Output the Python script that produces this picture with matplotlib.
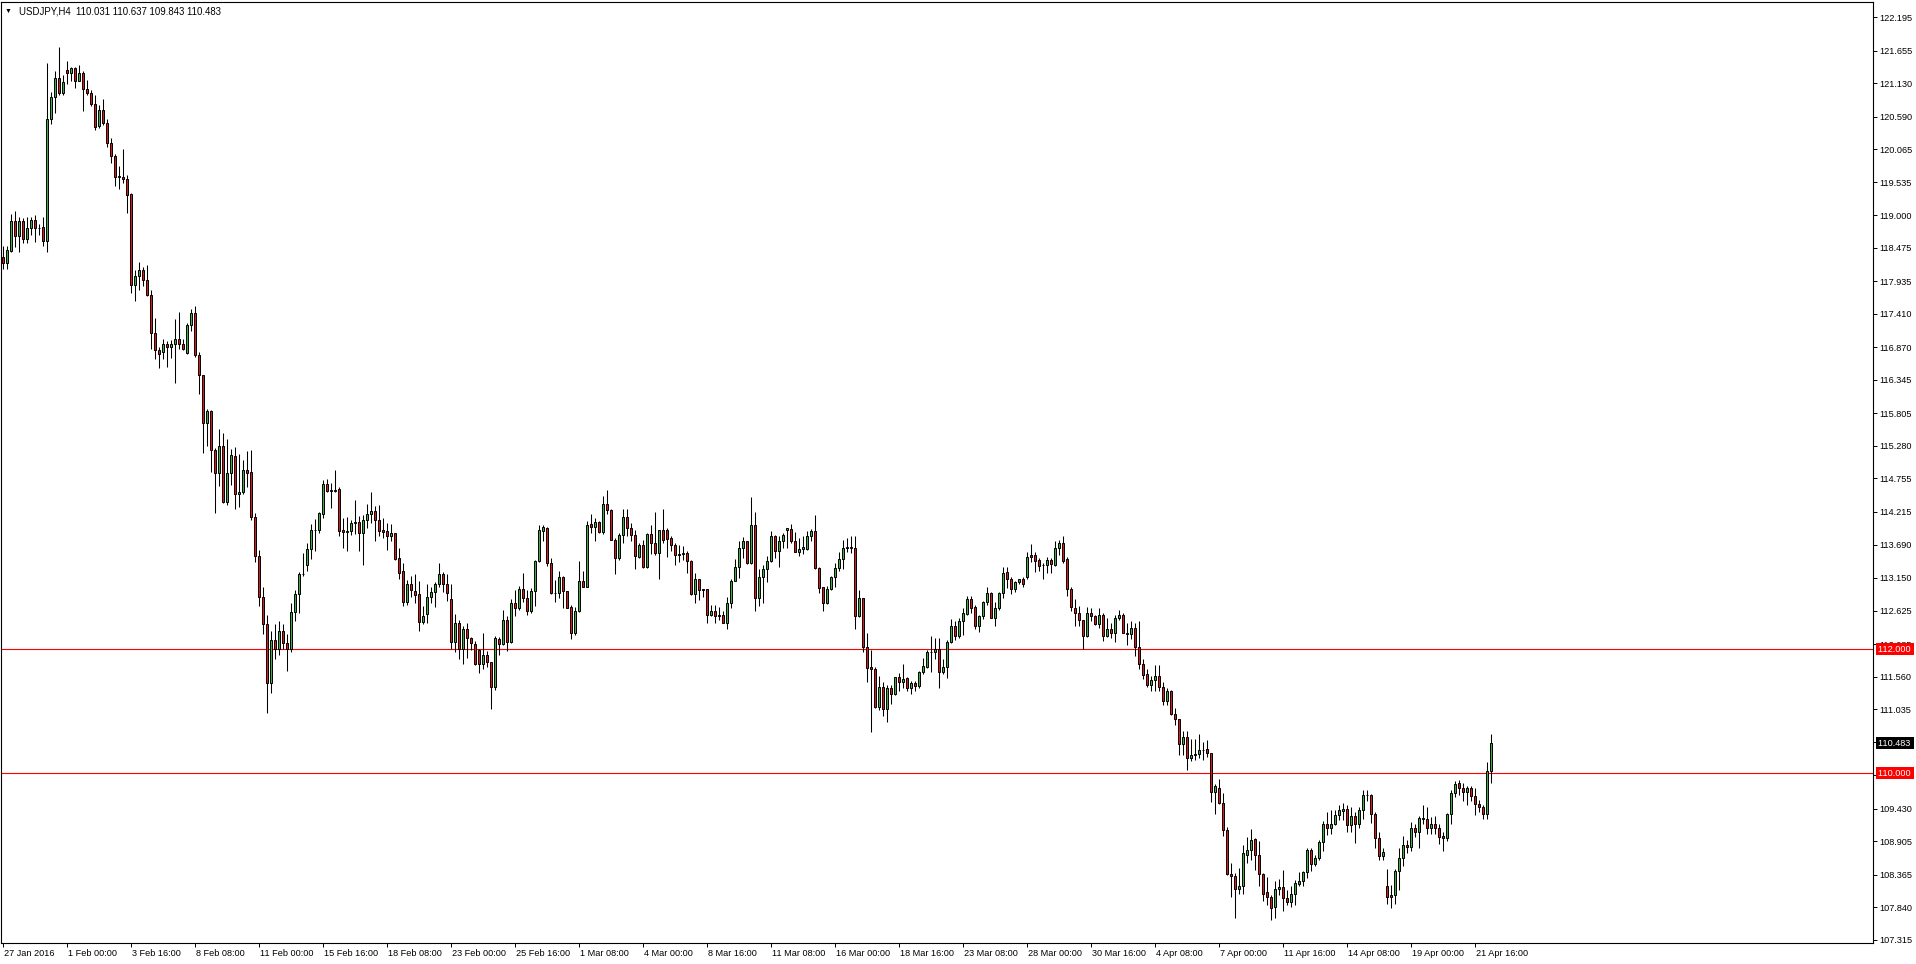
import matplotlib
matplotlib.use('Agg')
import matplotlib.pyplot as plt
import matplotlib.transforms as mtransforms
import numpy as np

# USDJPY H4 bars, 27 Jan 2016 08:00 onwards (one entry per bar)
bar_open = [
    118.32, 118.23, 118.43, 118.90, 118.66, 118.90, 118.62, 118.79, 118.92, 118.79,
    118.81, 118.58, 120.56, 120.90, 121.21, 120.97, 121.34, 121.29, 121.37, 121.17,
    121.29, 121.04, 120.97, 120.80, 120.44, 120.70, 120.49, 120.17, 119.96, 119.63,
    119.62, 119.58, 119.34, 117.88, 118.02, 118.12, 117.95, 117.71, 117.10, 116.83,
    116.79, 116.92, 116.87, 116.92, 117.01, 116.92, 116.78, 117.23, 117.42, 116.74,
    116.43, 115.65, 115.84, 115.22, 114.84, 115.28, 114.38, 114.84, 115.12, 114.50,
    114.53, 114.89, 114.86, 114.14, 113.50, 112.85, 112.40, 111.45, 112.15, 112.00,
    112.30, 112.10, 112.00, 112.60, 112.89, 113.21, 113.36, 113.61, 113.92, 113.93,
    114.19, 114.66, 114.56, 114.57, 114.58, 113.92, 113.89, 113.90, 114.04, 114.05,
    113.87, 114.08, 114.19, 114.23, 114.08, 113.92, 113.91, 113.82, 113.88, 113.47,
    113.26, 112.77, 113.06, 112.94, 112.89, 112.44, 112.57, 112.84, 112.92, 113.06,
    113.21, 113.05, 112.81, 112.11, 112.42, 112.00, 112.33, 112.18, 112.09, 111.99,
    111.77, 111.91, 111.79, 111.39, 112.16, 112.09, 112.47, 112.12, 112.74, 112.67,
    112.97, 112.82, 112.61, 112.94, 113.42, 113.91, 113.95, 113.39, 112.90, 112.90,
    113.16, 112.94, 112.68, 112.27, 112.62, 113.10, 113.00, 114.02, 113.98, 114.05,
    113.89, 114.35, 114.25, 113.77, 113.48, 113.84, 114.13, 113.95, 113.84, 113.49,
    113.68, 113.32, 113.86, 113.71, 113.56, 113.92, 113.93, 113.79, 113.69, 113.53,
    113.53, 113.56, 113.42, 112.89, 113.14, 112.97, 112.97, 112.55, 112.61, 112.55,
    112.55, 112.43, 112.74, 113.10, 113.32, 113.63, 113.75, 113.39, 114.00, 112.83,
    113.17, 113.29, 113.42, 113.83, 113.59, 113.74, 113.93, 113.94, 113.75, 113.57,
    113.61, 113.62, 113.82, 113.91, 113.31, 113.00, 112.74, 112.98, 113.16, 113.31,
    113.45, 113.64, 113.65, 113.64, 112.53, 112.82, 112.04, 111.71, 111.68, 111.07,
    111.39, 111.03, 111.37, 111.28, 111.55, 111.47, 111.53, 111.37, 111.45, 111.40,
    111.64, 111.72, 111.95, 111.95, 112.00, 111.64, 111.72, 112.12, 112.38, 112.22,
    112.45, 112.57, 112.81, 112.68, 112.37, 112.54, 112.76, 112.90, 112.51, 112.66,
    112.90, 113.24, 113.14, 112.97, 113.08, 113.13, 113.17, 113.52, 113.52, 113.44,
    113.36, 113.36, 113.44, 113.36, 113.64, 113.72, 113.45, 112.98, 112.67, 112.59,
    112.48, 112.22, 112.59, 112.53, 112.40, 112.56, 112.22, 112.32, 112.26, 112.50,
    112.56, 112.27, 112.24, 112.35, 112.04, 111.76, 111.60, 111.42, 111.51, 111.57,
    111.39, 111.17, 111.33, 110.95, 110.87, 110.47, 110.58, 110.25, 110.30, 110.31,
    110.38, 110.39, 110.32, 109.70, 109.77, 109.52, 109.08, 108.38, 108.35, 108.13,
    108.18, 108.69, 108.76, 108.94, 108.69, 108.37, 108.09, 108.01, 107.85, 108.13,
    108.17, 107.99, 107.93, 108.05, 108.22, 108.26, 108.41, 108.76, 108.53, 108.63,
    108.90, 109.18, 109.12, 109.19, 109.33, 109.40, 109.43, 109.16, 109.31, 109.19,
    109.41, 109.65, 109.65, 109.35, 108.96, 108.66, 108.18, 108.04, 108.03, 108.42,
    108.64, 108.84, 108.81, 109.12, 109.06, 109.28, 109.26, 109.11, 109.19, 109.11,
    108.99, 108.95, 109.34, 109.68, 109.84, 109.76, 109.70, 109.77, 109.64, 109.50,
    109.45, 109.35, 110.031,
]
bar_high = [
    118.50, 118.51, 119.02, 119.07, 118.98, 118.95, 118.98, 118.98, 119.00, 118.86,
    118.98, 121.45, 120.99, 121.33, 121.71, 121.26, 121.49, 121.39, 121.39, 121.43,
    121.33, 121.18, 121.02, 120.94, 120.78, 120.87, 120.56, 120.24, 119.99, 119.79,
    120.07, 119.65, 119.36, 118.12, 118.25, 118.17, 118.20, 117.80, 117.34, 116.88,
    117.00, 116.97, 116.99, 117.33, 117.44, 117.01, 117.26, 117.49, 117.53, 116.80,
    116.43, 115.87, 115.86, 115.24, 115.55, 115.49, 115.39, 115.23, 115.26, 115.15,
    115.06, 115.20, 115.21, 114.20, 113.60, 113.00, 112.55, 112.30, 112.40, 112.45,
    112.40, 112.25, 112.75, 112.95, 113.24, 113.55, 113.71, 114.02, 114.10, 114.22,
    114.73, 114.75, 114.69, 114.89, 114.62, 114.11, 114.14, 114.09, 114.41, 114.15,
    114.16, 114.34, 114.53, 114.31, 114.33, 114.11, 114.03, 114.02, 113.88, 113.64,
    113.39, 113.12, 113.18, 113.21, 113.10, 112.70, 113.05, 113.00, 113.09, 113.39,
    113.24, 113.21, 113.05, 112.57, 112.47, 112.37, 112.42, 112.20, 112.13, 112.00,
    112.27, 111.97, 111.79, 112.22, 112.20, 112.63, 112.54, 112.81, 112.96, 113.02,
    113.23, 112.96, 112.99, 113.44, 114.00, 114.00, 113.98, 113.47, 113.12, 113.26,
    113.18, 112.94, 112.71, 112.69, 113.42, 113.27, 114.07, 114.19, 114.12, 114.07,
    114.47, 114.57, 114.26, 113.79, 113.87, 114.26, 114.27, 114.03, 113.92, 113.71,
    113.76, 113.87, 114.00, 114.21, 113.92, 114.26, 113.95, 113.82, 113.71, 113.68,
    113.66, 113.59, 113.44, 113.23, 113.14, 112.97, 112.97, 112.71, 112.71, 112.69,
    112.61, 112.84, 113.14, 113.45, 113.75, 113.81, 113.75, 114.46, 114.22, 113.29,
    113.36, 113.51, 113.90, 113.84, 113.82, 113.87, 113.95, 114.02, 113.89, 113.79,
    113.82, 113.90, 113.94, 114.16, 113.33, 113.01, 113.02, 113.18, 113.39, 113.57,
    113.76, 113.79, 113.82, 113.83, 112.96, 112.82, 112.27, 111.99, 111.72, 111.57,
    111.48, 111.42, 111.42, 111.56, 111.61, 111.76, 111.56, 111.49, 111.49, 111.65,
    111.86, 111.99, 112.21, 112.18, 112.18, 111.85, 112.15, 112.49, 112.45, 112.50,
    112.66, 112.86, 112.86, 112.71, 112.56, 112.78, 113.01, 112.93, 112.76, 112.93,
    113.32, 113.32, 113.17, 113.10, 113.14, 113.17, 113.57, 113.70, 113.57, 113.48,
    113.39, 113.49, 113.48, 113.75, 113.76, 113.82, 113.49, 113.01, 112.81, 112.70,
    112.48, 112.68, 112.66, 112.56, 112.66, 112.59, 112.50, 112.42, 112.56, 112.63,
    112.59, 112.43, 112.45, 112.42, 112.46, 111.84, 111.68, 111.57, 111.75, 111.75,
    111.48, 111.37, 111.34, 111.05, 110.88, 110.69, 110.69, 110.55, 110.56, 110.63,
    110.51, 110.54, 110.32, 109.82, 109.91, 109.68, 109.13, 108.56, 108.39, 108.47,
    108.84, 108.98, 109.10, 108.96, 108.91, 108.39, 108.32, 108.03, 108.27, 108.30,
    108.44, 108.12, 108.18, 108.28, 108.41, 108.42, 108.79, 108.80, 108.69, 108.92,
    109.23, 109.38, 109.41, 109.41, 109.49, 109.52, 109.49, 109.45, 109.38, 109.46,
    109.73, 109.73, 109.66, 109.38, 109.05, 108.79, 108.46, 108.20, 108.46, 108.80,
    108.99, 108.93, 109.22, 109.18, 109.31, 109.49, 109.45, 109.30, 109.31, 109.19,
    109.06, 109.36, 109.73, 109.88, 109.89, 109.84, 109.80, 109.80, 109.77, 109.57,
    109.49, 110.19, 110.637,
]
bar_low = [
    118.13, 118.13, 118.40, 118.49, 118.41, 118.55, 118.56, 118.69, 118.57, 118.69,
    118.51, 118.40, 120.47, 120.65, 120.94, 120.94, 121.12, 121.17, 121.06, 121.16,
    120.69, 120.94, 120.77, 120.37, 120.40, 120.46, 120.10, 119.85, 119.47, 119.43,
    119.52, 119.04, 117.75, 117.62, 117.80, 117.86, 117.70, 116.84, 116.68, 116.53,
    116.68, 116.56, 116.70, 116.30, 116.84, 116.83, 116.77, 117.14, 116.72, 116.12,
    115.17, 115.28, 114.86, 114.20, 114.64, 114.36, 114.32, 114.65, 114.26, 114.30,
    114.50, 114.62, 114.08, 113.40, 112.70, 112.25, 110.98, 111.30, 111.85, 111.90,
    112.00, 111.65, 111.95, 112.45, 112.59, 113.19, 113.27, 113.46, 113.59, 113.88,
    114.11, 114.53, 114.28, 114.53, 113.82, 113.64, 113.59, 113.84, 113.86, 113.59,
    113.36, 113.95, 114.04, 113.74, 113.83, 113.80, 113.60, 113.74, 113.44, 113.14,
    112.70, 112.71, 112.85, 112.75, 112.30, 112.41, 112.42, 112.75, 112.69, 113.01,
    112.93, 112.78, 112.00, 111.96, 111.84, 111.77, 111.86, 111.99, 111.75, 111.62,
    111.69, 111.71, 111.04, 111.34, 111.90, 112.07, 111.98, 112.10, 112.53, 112.64,
    112.77, 112.56, 112.59, 112.70, 113.40, 113.75, 113.35, 112.89, 112.77, 112.82,
    112.66, 112.66, 112.16, 112.23, 112.60, 113.00, 113.00, 113.87, 113.74, 113.87,
    113.86, 114.18, 113.76, 113.22, 113.44, 113.71, 113.83, 113.74, 113.30, 113.47,
    113.31, 113.31, 113.54, 113.52, 113.13, 113.71, 113.49, 113.59, 113.36, 113.40,
    113.44, 113.23, 112.88, 112.74, 112.80, 112.85, 112.42, 112.53, 112.43, 112.47,
    112.42, 112.32, 112.66, 113.10, 113.15, 113.48, 113.38, 113.37, 112.61, 112.70,
    112.75, 113.09, 113.40, 113.48, 113.33, 113.63, 113.64, 113.71, 113.57, 113.51,
    113.54, 113.60, 113.74, 113.29, 112.91, 112.62, 112.73, 112.95, 113.00, 113.27,
    113.29, 113.57, 113.55, 112.32, 112.52, 111.96, 111.47, 110.66, 111.06, 111.02,
    110.92, 110.82, 111.12, 111.26, 111.33, 111.37, 111.32, 111.28, 111.33, 111.37,
    111.60, 111.70, 111.64, 111.85, 111.37, 111.60, 111.53, 112.10, 112.15, 112.19,
    112.23, 112.56, 112.58, 112.33, 112.28, 112.49, 112.71, 112.50, 112.37, 112.63,
    112.83, 112.99, 112.89, 112.93, 113.06, 113.01, 113.13, 113.41, 113.25, 113.27,
    113.14, 113.23, 113.23, 113.34, 113.52, 113.39, 112.86, 112.61, 112.38, 112.38,
    112.00, 112.20, 112.46, 112.39, 112.34, 112.14, 112.20, 112.18, 112.11, 112.47,
    112.27, 112.07, 112.16, 111.89, 111.68, 111.52, 111.39, 111.32, 111.32, 111.32,
    111.10, 111.10, 110.94, 110.78, 110.30, 110.30, 110.05, 110.20, 110.22, 110.25,
    110.22, 110.27, 109.54, 109.34, 109.50, 108.99, 108.36, 108.01, 107.66, 108.06,
    108.06, 108.56, 108.60, 108.44, 108.19, 107.94, 107.88, 107.63, 107.67, 108.04,
    107.78, 107.88, 107.85, 107.88, 108.18, 108.19, 108.31, 108.42, 108.51, 108.60,
    108.74, 109.00, 109.02, 109.16, 109.24, 109.24, 109.05, 109.06, 108.88, 109.11,
    109.27, 109.56, 109.20, 108.79, 108.60, 108.60, 107.89, 107.82, 107.89, 108.11,
    108.51, 108.72, 108.74, 108.97, 108.79, 109.18, 109.02, 109.02, 109.02, 108.86,
    108.75, 108.91, 109.18, 109.62, 109.65, 109.56, 109.49, 109.56, 109.32, 109.38,
    109.26, 109.26, 109.843,
]
bar_close = [
    118.23, 118.44, 118.90, 118.67, 118.91, 118.62, 118.79, 118.92, 118.79, 118.80,
    118.58, 120.56, 120.90, 121.21, 120.97, 121.15, 121.29, 121.37, 121.17, 121.29,
    121.04, 120.98, 120.80, 120.43, 120.70, 120.49, 120.17, 119.96, 119.62, 119.61,
    119.58, 119.33, 117.88, 118.02, 118.12, 117.95, 117.72, 117.10, 116.83, 116.77,
    116.92, 116.87, 116.92, 117.01, 116.92, 116.84, 117.23, 117.42, 116.74, 116.43,
    115.65, 115.84, 115.22, 114.84, 115.28, 114.38, 114.84, 115.13, 114.50, 114.53,
    114.89, 114.85, 114.14, 113.50, 112.85, 112.40, 111.45, 112.15, 112.00, 112.30,
    112.10, 112.00, 112.60, 112.89, 113.21, 113.22, 113.61, 113.92, 113.93, 114.20,
    114.66, 114.56, 114.57, 114.56, 113.91, 113.89, 113.91, 114.04, 114.06, 113.87,
    114.09, 114.19, 114.23, 114.08, 113.91, 113.89, 113.82, 113.88, 113.46, 113.23,
    112.77, 113.06, 112.95, 112.88, 112.44, 112.53, 112.84, 112.92, 113.06, 113.21,
    113.05, 112.90, 112.11, 112.42, 112.00, 112.33, 112.18, 112.10, 111.77, 111.77,
    111.91, 111.79, 111.39, 112.18, 112.09, 112.47, 112.12, 112.74, 112.67, 112.98,
    112.82, 112.61, 112.94, 113.42, 113.92, 113.98, 113.39, 112.90, 112.90, 113.16,
    112.94, 112.67, 112.27, 112.62, 113.10, 113.00, 114.00, 113.98, 114.05, 113.89,
    114.35, 114.24, 113.77, 113.48, 113.84, 114.13, 113.95, 113.84, 113.51, 113.68,
    113.32, 113.86, 113.71, 113.56, 113.92, 113.76, 113.78, 113.69, 113.52, 113.52,
    113.56, 113.42, 112.89, 113.14, 112.95, 112.96, 112.55, 112.61, 112.53, 112.53,
    112.43, 112.74, 113.10, 113.32, 113.63, 113.75, 113.39, 114.00, 112.83, 113.17,
    113.29, 113.42, 113.83, 113.59, 113.74, 113.84, 113.95, 113.75, 113.57, 113.62,
    113.65, 113.83, 113.91, 113.31, 112.99, 112.74, 112.98, 113.16, 113.31, 113.45,
    113.64, 113.65, 113.64, 112.53, 112.82, 112.04, 111.70, 111.68, 111.07, 111.39,
    111.03, 111.37, 111.28, 111.55, 111.48, 111.52, 111.37, 111.45, 111.40, 111.64,
    111.73, 111.95, 111.96, 112.00, 111.64, 111.72, 112.12, 112.38, 112.22, 112.46,
    112.59, 112.81, 112.67, 112.37, 112.54, 112.76, 112.90, 112.51, 112.66, 112.90,
    113.23, 113.14, 112.97, 113.08, 113.13, 113.05, 113.49, 113.49, 113.42, 113.35,
    113.36, 113.44, 113.37, 113.64, 113.72, 113.43, 112.98, 112.68, 112.59, 112.48,
    112.22, 112.59, 112.53, 112.40, 112.56, 112.22, 112.32, 112.26, 112.50, 112.56,
    112.27, 112.24, 112.35, 112.04, 111.76, 111.59, 111.42, 111.51, 111.57, 111.39,
    111.17, 111.32, 110.95, 110.87, 110.47, 110.58, 110.25, 110.30, 110.31, 110.38,
    110.37, 110.32, 109.70, 109.79, 109.52, 109.08, 108.37, 108.35, 108.13, 108.18,
    108.71, 108.77, 108.92, 108.69, 108.37, 108.05, 108.01, 107.83, 108.13, 108.17,
    107.99, 107.93, 108.05, 108.23, 108.26, 108.41, 108.76, 108.53, 108.63, 108.90,
    109.18, 109.11, 109.19, 109.33, 109.41, 109.43, 109.17, 109.31, 109.19, 109.41,
    109.65, 109.65, 109.35, 108.96, 108.66, 108.73, 108.01, 108.01, 108.42, 108.64,
    108.84, 108.81, 109.12, 109.06, 109.28, 109.26, 109.11, 109.19, 109.11, 108.98,
    108.95, 109.34, 109.68, 109.82, 109.76, 109.70, 109.77, 109.64, 109.50, 109.45,
    109.35, 110.04, 110.483,
]

# time axis labels, one every 16 bars
time_labels = ['27 Jan 2016', '1 Feb 00:00', '3 Feb 16:00', '8 Feb 08:00', '11 Feb 00:00',
               '15 Feb 16:00', '18 Feb 08:00', '23 Feb 00:00', '25 Feb 16:00', '1 Mar 08:00',
               '4 Mar 00:00', '8 Mar 16:00', '11 Mar 08:00', '16 Mar 00:00', '18 Mar 16:00',
               '23 Mar 08:00', '28 Mar 00:00', '30 Mar 16:00', '4 Apr 08:00', '7 Apr 00:00',
               '11 Apr 16:00', '14 Apr 08:00', '19 Apr 00:00', '21 Apr 16:00']
label_step = 16

price_ticks = [122.195, 121.655, 121.130, 120.590, 120.065, 119.535, 119.000, 118.475,
               117.935, 117.410, 116.870, 116.345, 115.805, 115.280, 114.755, 114.215,
               113.690, 113.150, 112.625, 112.085, 111.560, 111.035, 110.510, 109.970,
               109.430, 108.905, 108.365, 107.840, 107.315]

levels = [112.000, 110.000]
header = 'USDJPY,H4  110.031 110.637 109.843 110.483'
last_price = 110.483

plt.rcParams['font.family'] = ['Liberation Sans', 'DejaVu Sans']

W, H = 1916, 964
fig = plt.figure(figsize=(W / 100, H / 100), dpi=100)
ax = fig.add_axes([1 / W, 21 / H, 1872 / W, 941 / H])

o = np.array(bar_open)
hi = np.array(bar_high)
lo = np.array(bar_low)
c = np.array(bar_close)
x = np.arange(len(o))

up_col = '#3cb043'
down_col = '#e0161b'
cols = np.where(c > o, up_col, np.where(c < o, down_col, 'black'))

# horizontal levels
for lvl in levels:
    ax.axhline(lvl, color='#ff0000', linewidth=0.8, zorder=1)

ax.vlines(x, lo, hi, colors='black', linewidth=0.75, zorder=2)
ax.bar(x, np.abs(c - o), bottom=np.minimum(o, c), width=0.55, color=cols,
       edgecolor='black', linewidth=0.7, zorder=3)

ax.set_xlim(-0.575, 467.4)
ax.set_ylim(107.263, 122.440)

ax.yaxis.tick_right()
ax.set_yticks(price_ticks)
ax.set_yticklabels([f'{v:.3f}' for v in price_ticks])
ax.set_xticks(np.arange(len(time_labels)) * label_step)
ax.set_xticklabels(time_labels)
ax.tick_params(axis='y', direction='out', length=3, width=0.7, pad=1.5, labelsize=6.6)
ax.tick_params(axis='x', direction='out', length=3, width=0.7, pad=1.0, labelsize=6.6)
shift = mtransforms.ScaledTranslation(1.0 / 100, 0, fig.dpi_scale_trans)
for lbl in ax.get_xticklabels():
    lbl.set_horizontalalignment('left')
    lbl.set_transform(lbl.get_transform() + shift)
for sp in ax.spines.values():
    sp.set_linewidth(0.8)

# price tags on the right scale (they cover the tick labels under them, as in MT4)
tag_tf = mtransforms.blended_transform_factory(ax.transAxes, ax.transData)
for lvl in levels:
    ax.text(1.0025, lvl, f'{lvl:.3f} ', transform=tag_tf, color='white', fontsize=6.6,
            va='center', ha='left', clip_on=False, zorder=10,
            bbox=dict(boxstyle='square,pad=0.15', fc='#ff0000', ec='none'))
ax.text(1.0025, last_price, f'{last_price:.3f} ', transform=tag_tf, color='white',
        fontsize=6.6, va='center', ha='left', clip_on=False, zorder=10,
        bbox=dict(boxstyle='square,pad=0.15', fc='black', ec='none'))

fig.text(5 / W, 1 - 11 / H, '\u25bc', fontsize=5, va='center', ha='left')
fig.text(19 / W, 1 - 11 / H, header, fontsize=6.9, va='center', ha='left')

fig.savefig('out.png', dpi=100)
